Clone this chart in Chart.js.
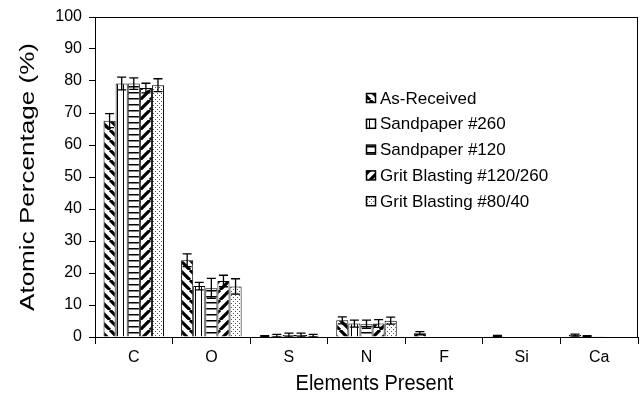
<!DOCTYPE html>
<html>
<head>
<meta charset="utf-8">
<script src="https://cdn.jsdelivr.net/npm/chart.js@4"></script>
<style>
html,body{margin:0;padding:0;background:#fff;}
#wrap{width:641px;height:402px;}
</style>
</head>
<body>
<div id="wrap"><canvas id="c" width="641" height="402"></canvas></div>
<script>
const categories = ['C','O','S','N','F','Si','Ca'];
const seriesNames = ['As-Received','Sandpaper #260','Sandpaper #120','Grit Blasting #120/260','Grit Blasting #80/40'];
const asReceived    = [67.6, 24.0, 0.2, 5.2, 1.2, 0.3, 0.6];
const sandpaper260  = [79.2, 15.9, 0.4, 4.2, 0, 0, 0.2];
const sandpaper120  = [79.2, 15.2, 0.6, 4.0, 0, 0, 0.1];
const grit120_260   = [77.8, 17.5, 0.6, 4.2, 0, 0, 0];
const grit80_40     = [78.7, 15.8, 0.4, 5.1, 0, 0, 0];
const errAsReceived   = [2.2, 2.0, 0.2, 1.1, 0.5, 0.2, 0.3];
const errSandpaper260 = [2.0, 1.2, 0.4, 1.1, 0, 0, 0.2];
const errSandpaper120 = [1.8, 3.1, 0.6, 1.3, 0, 0, 0];
const errGrit120_260  = [1.5, 1.8, 0.6, 1.2, 0, 0, 0];
const errGrit80_40    = [2.0, 2.4, 0.4, 1.1, 0, 0, 0];
const yTicks = [0,10,20,30,40,50,60,70,80,90,100];
const xTitle = 'Elements Present';
const yTitle = 'Atomic Percentage (%)';

function makePattern(kind){
  const s = kind==='diagR'||kind==='diagL' ? 10 : (kind==='dots'?4:6);
  const cv = document.createElement('canvas');
  cv.width = s; cv.height = s;
  const g = cv.getContext('2d');
  g.fillStyle='#fff'; g.fillRect(0,0,s,s);
  g.strokeStyle='#000'; g.fillStyle='#000';
  if(kind==='diagR'){ // "\" lines
    g.lineWidth=3.2;
    g.beginPath();
    for(let k=-1;k<=1;k++){ g.moveTo(k*s, 0); g.lineTo(k*s+s, s); }
    g.stroke();
  } else if(kind==='diagL'){ // "/" lines
    g.lineWidth=3.2;
    g.beginPath();
    for(let k=-1;k<=1;k++){ g.moveTo(k*s, s); g.lineTo(k*s+s, 0); }
    g.stroke();
  } else if(kind==='vert'){
    g.fillRect(3,0,1,s);
  } else if(kind==='horiz'){
    g.fillRect(0,2,s,1.5);
  } else if(kind==='dots'){
    g.fillStyle='#555';
    g.fillRect(1,1,1,1);
    g.fillRect(3,3,1,1);
  }
  return document.getElementById('c').getContext('2d').createPattern(cv,'repeat');
}
const kinds = ['diagR','vert','horiz','diagL','dots'];
const patterns = kinds.map(makePattern);
const values = [asReceived, sandpaper260, sandpaper120, grit120_260, grit80_40];
const errors = [errAsReceived, errSandpaper260, errSandpaper120, errGrit120_260, errGrit80_40];

const FONT = 'Liberation Sans, Arial, sans-serif';

const errorBars = {
  id:'errorBars',
  afterDatasetsDraw(chart){
    const ctx = chart.ctx, y = chart.scales.y;
    ctx.save();
    ctx.strokeStyle='#000'; ctx.lineWidth=1.3;
    chart.data.datasets.forEach((ds,i)=>{
      const meta = chart.getDatasetMeta(i);
      meta.data.forEach((bar,j)=>{
        const v = ds.data[j], e = errors[i][j];
        if(!e) return;
        const yt = y.getPixelForValue(v+e), yb = y.getPixelForValue(v-e);
        const x = bar.x, cw = 4.5;
        ctx.beginPath();
        ctx.moveTo(x,yt); ctx.lineTo(x,yb);
        ctx.moveTo(x-cw,yt); ctx.lineTo(x+cw,yt);
        ctx.moveTo(x-cw,yb); ctx.lineTo(x+cw,yb);
        ctx.stroke();
      });
    });
    ctx.restore();
  }
};

const frameLegendTitles = {
  id:'frameLegendTitles',
  afterDraw(chart){
    const ctx = chart.ctx, a = chart.chartArea;
    ctx.save();
    ctx.strokeStyle='#000'; ctx.lineWidth=1;
    ctx.strokeRect(Math.round(a.left)+0.5, Math.round(a.top)+0.5, Math.round(a.right-a.left)-1, Math.round(a.bottom-a.top));
    // legend
    const lx = a.left + 271, ly0 = a.top + 81, dy = 25.8;
    ctx.font = '17px ' + FONT;
    ctx.textBaseline='middle';
    seriesNames.forEach((n,i)=>{
      const yy = ly0 + i*dy;
      ctx.fillStyle = patterns[i];
      ctx.fillRect(lx, yy-5, 10, 10);
      ctx.lineWidth=1.5; ctx.strokeStyle='#000';
      ctx.strokeRect(lx+0.5, yy-4.5, 9, 9);
      ctx.fillStyle='#000';
      ctx.fillText(n, lx+14, yy+1);
    });
    // x title
    ctx.fillStyle='#000';
    ctx.textAlign='center';
    ctx.textBaseline='middle';
    ctx.font = '20px ' + FONT;
    ctx.save();
    ctx.translate((a.left+a.right)/2 + 8, 384);
    ctx.scale(1.0, 1.1);
    ctx.fillText(xTitle, 0, 0);
    ctx.restore();
    // y title (stretched along its length like the reference)
    ctx.save();
    ctx.font = '20px ' + FONT;
    ctx.translate(28, (a.top+a.bottom)/2);
    ctx.rotate(-Math.PI/2);
    const w = ctx.measureText(yTitle).width;
    ctx.scale(268/w, 1);
    ctx.fillText(yTitle, 0, 0);
    ctx.restore();
    ctx.restore();
  }
};

new Chart(document.getElementById('c'), {
  type:'bar',
  data:{
    labels: categories,
    datasets: seriesNames.map((n,i)=>({
      label:n,
      data: values[i],
      backgroundColor: patterns[i],
      borderColor:'#000',
      borderWidth:1,
      categoryPercentage:0.78,
      barPercentage:1.0
    }))
  },
  options:{
    responsive:false,
    animation:false,
    devicePixelRatio:1,
    layout:{padding:{top:17,right:3,left:0,bottom:0}},
    plugins:{legend:{display:false},tooltip:{enabled:false}},
    scales:{
      x:{
        grid:{display:true, drawOnChartArea:false, drawTicks:true, tickLength:7, offset:true, color:'#000', lineWidth:1},
        border:{display:true, color:'#000', width:1},
        ticks:{color:'#000', font:{family:FONT, size:16}, padding:4},
        title:{display:false},
        afterFit(s){ s.height = 65; }
      },
      y:{
        min:0, max:100,
        afterBuildTicks(s){ s.ticks = yTicks.map(v=>({value:v})); },
        grid:{display:true, drawOnChartArea:false, drawTicks:true, tickLength:6, color:'#000', lineWidth:1},
        border:{display:true, color:'#000', width:1},
        ticks:{color:'#000', font:{family:FONT, size:16}, padding:7},
        title:{display:false},
        afterFit(s){ s.width = 95; }
      }
    }
  },
  plugins:[errorBars, frameLegendTitles]
});
</script>
</body>
</html>
